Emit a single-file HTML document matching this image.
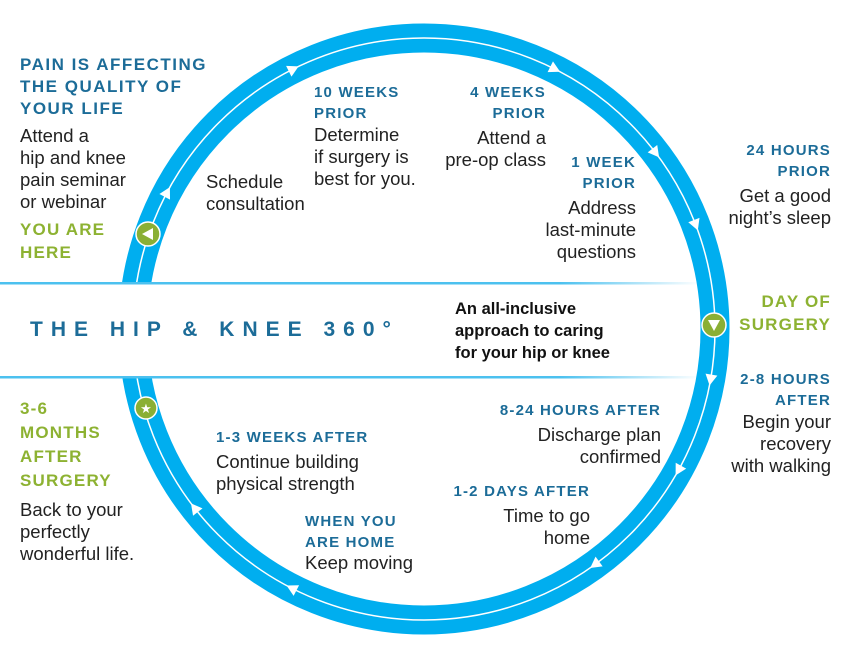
<!DOCTYPE html>
<html><head><meta charset="utf-8"><style>
body{margin:0;width:850px;height:657px;background:#fff;position:relative;overflow:hidden;font-family:"Liberation Sans",sans-serif}
.t{position:absolute;font-size:18.5px;line-height:22px;color:#222;white-space:nowrap}
.h{position:absolute;font-size:15px;line-height:21px;font-weight:bold;color:#1c6c98;letter-spacing:1.2px;white-space:nowrap}
.g{position:absolute;font-size:17px;line-height:23px;font-weight:bold;color:#8db232;letter-spacing:1.2px;white-space:nowrap}
.r{text-align:right}
</style></head><body>
<svg width="850" height="657" style="position:absolute;left:0;top:0">
<defs><linearGradient id="lg" x1="0" x2="1"><stop offset="0" stop-color="#4cc1ef"/><stop offset="0.8" stop-color="#4cc1ef"/><stop offset="1" stop-color="#4cc1ef" stop-opacity="0"/></linearGradient></defs>
<circle cx="424" cy="329" r="291" fill="none" stroke="#00aeef" stroke-width="29"/>
<circle cx="424" cy="329" r="291" fill="none" stroke="#fff" stroke-width="1.5"/>
<rect x="0" y="283" width="696" height="95" fill="#fff"/>
<rect x="0" y="282" width="700" height="2.5" fill="url(#lg)"/>
<rect x="0" y="376" width="700" height="2.5" fill="url(#lg)"/>
<g fill="#fff">
<polygon points="-5,-6 6,0 -5,6" transform="rotate(-26.7 424 329) translate(424 38)"/>
<polygon points="-5,-6 6,0 -5,6" transform="rotate(26.7 424 329) translate(424 38)"/>
<polygon points="-5,-6 6,0 -5,6" transform="rotate(52.7 424 329) translate(424 38)"/>
<polygon points="-5,-6 6,0 -5,6" transform="rotate(69 424 329) translate(424 38)"/>
<polygon points="-5,-6 6,0 -5,6" transform="rotate(100 424 329) translate(424 38)"/>
<polygon points="-5,-6 6,0 -5,6" transform="rotate(119 424 329) translate(424 38)"/>
<polygon points="-5,-6 6,0 -5,6" transform="rotate(144 424 329) translate(424 38)"/>
<polygon points="-5,-6 6,0 -5,6" transform="rotate(207 424 329) translate(424 38)"/>
<polygon points="-5,-6 6,0 -5,6" transform="rotate(232 424 329) translate(424 38)"/>
<polygon points="-5,-6 6,0 -5,6" transform="rotate(298 424 329) translate(424 38)"/>
</g>
<circle cx="148" cy="234" r="12" fill="#8aaf35" stroke="#fff" stroke-width="1.5"/>
<polygon points="142,234 153,228 153,240" fill="#fff"/>
<circle cx="714" cy="325" r="12" fill="#8aaf35" stroke="#fff" stroke-width="1.5"/>
<polygon points="708,320 720,320 714,331" fill="#fff"/>
<circle cx="146" cy="408" r="11" fill="#8aaf35" stroke="#fff" stroke-width="1.5"/>
<text x="146" y="413" font-size="13" fill="#fff" text-anchor="middle" font-family="DejaVu Sans">★</text>
</svg>
<div class="h" style="left:20px;top:54px;font-size:17px;line-height:22px;letter-spacing:1.5px">PAIN IS AFFECTING<br>THE QUALITY OF<br>YOUR LIFE</div>
<div class="t" style="left:20px;top:125px">Attend a<br>hip and knee<br>pain seminar<br>or webinar</div>
<div class="g" style="left:20px;top:218px">YOU ARE<br>HERE</div>
<div class="t" style="left:206px;top:171px">Schedule<br>consultation</div>
<div class="h" style="left:314px;top:82px">10 WEEKS<br>PRIOR</div>
<div class="t" style="left:314px;top:124px">Determine<br>if surgery is<br>best for you.</div>
<div class="h r" style="right:304px;top:82px">4 WEEKS<br>PRIOR</div>
<div class="t r" style="right:304px;top:127px">Attend a<br>pre-op class</div>
<div class="h r" style="right:214px;top:152px">1 WEEK<br>PRIOR</div>
<div class="t r" style="right:214px;top:197px">Address<br>last-minute<br>questions</div>
<div class="h r" style="right:19px;top:140px">24 HOURS<br>PRIOR</div>
<div class="t r" style="right:19px;top:185px">Get a good<br>night’s sleep</div>
<div class="g r" style="right:19px;top:290px">DAY OF<br>SURGERY</div>
<div class="h r" style="right:19px;top:369px">2-8 HOURS<br>AFTER</div>
<div class="t r" style="right:19px;top:411px">Begin your<br>recovery<br>with walking</div>
<div class="h r" style="right:189px;top:400px">8-24 HOURS AFTER</div>
<div class="t r" style="right:189px;top:424px">Discharge plan<br>confirmed</div>
<div class="h r" style="right:260px;top:481px">1-2 DAYS AFTER</div>
<div class="t r" style="right:260px;top:505px">Time to go<br>home</div>
<div class="h" style="left:305px;top:511px">WHEN YOU<br>ARE HOME</div>
<div class="t" style="left:305px;top:552px">Keep moving</div>
<div class="h" style="left:216px;top:427px">1-3 WEEKS AFTER</div>
<div class="t" style="left:216px;top:451px">Continue building<br>physical strength</div>
<div class="g" style="left:20px;top:397px;line-height:24px">3-6<br>MONTHS<br>AFTER<br>SURGERY</div>
<div class="t" style="left:20px;top:499px">Back to your<br>perfectly<br>wonderful life.</div>
<div style="position:absolute;left:30px;top:318px;font-size:21px;font-weight:bold;color:#1c6c98;letter-spacing:8px;white-space:nowrap">THE HIP &amp; KNEE 360°</div>
<div style="position:absolute;left:455px;top:298px;font-size:16.5px;line-height:22px;font-weight:bold;color:#111;white-space:nowrap">An all-inclusive<br>approach to caring<br>for your hip or knee</div>
</body></html>
